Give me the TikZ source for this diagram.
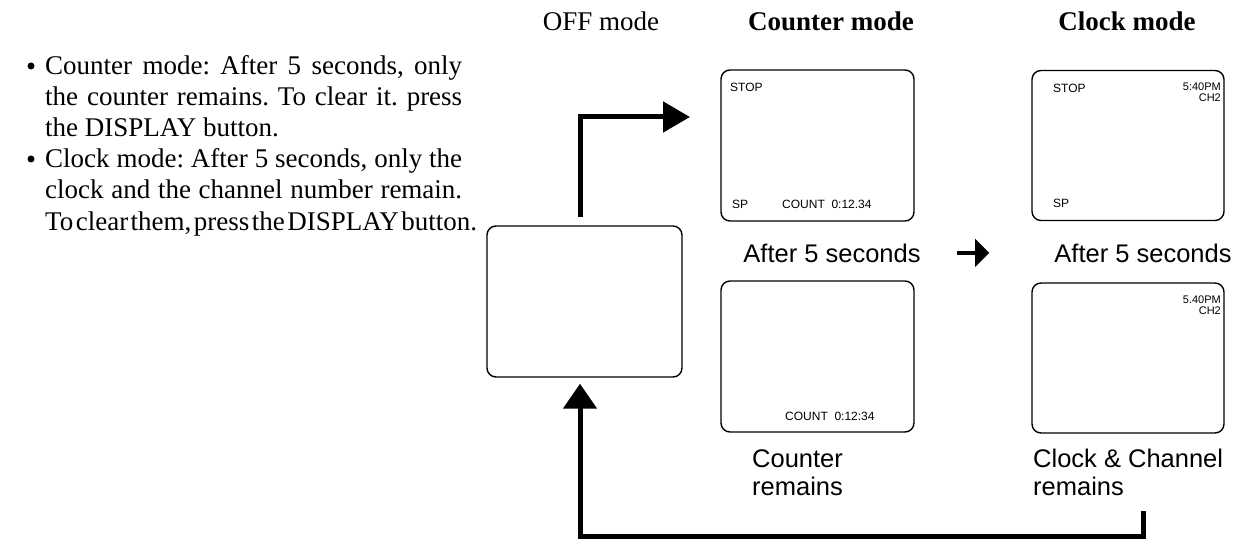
\documentclass[tikz,border=0pt]{standalone}
\usepackage{fontspec}
\setmainfont{Liberation Serif}
\newfontfamily\sansf{Liberation Sans}
\usetikzlibrary{arrows.meta}
\frenchspacing
\begin{document}
\begin{tikzpicture}[x=1pt,y=-1pt,
  screen/.style={draw=black, line width=1.4pt, rounded corners=9pt, minimum width=193pt, minimum height=151pt, inner sep=0pt},
  hdr/.style={anchor=base, inner sep=0pt, font=\fontsize{27}{32}\selectfont},
  body/.style={anchor=base west, inner sep=0pt, font=\fontsize{27}{31}\selectfont\frenchspacing},
  bul/.style={circle, fill=black, inner sep=0pt, minimum size=7pt},
  captxt/.style={anchor=base west, inner sep=0pt, font=\sansf\fontsize{25.5}{30}\selectfont},
  captxtc/.style={anchor=base, inner sep=0pt, font=\sansf\fontsize{25.5}{30}\selectfont},
  osd/.style={inner sep=0pt, font=\sansf\fontsize{12}{12}\selectfont},
  osdsmall/.style={inner sep=0pt, anchor=east, font=\sansf\fontsize{11}{11}\selectfont},
  bigarrow/.style={line width=5pt, -{Triangle[length=27pt,width=30pt]}},
  looparrow/.style={line width=5pt, -{Triangle[length=25pt,width=33pt]}},
  midarrow/.style={line width=4.5pt, -{Triangle[length=14pt,width=27pt]}}
]
\useasboundingbox (0,0) rectangle (1237,540);

% bullet text
\node[bul] (b1) at (31,66) {};
\node[body] (t1) at (45,75) {\makebox[417pt][s]{Counter mode: After 5 seconds, only}};
\node[body] (t2) at (45,106) {\makebox[417pt][s]{the counter remains. To clear it. press}};
\node[body] (t3) at (45,137) {the DISPLAY button.};
\node[bul] (b2) at (31,159) {};
\node[body] (t4) at (45,168) {\makebox[417pt][s]{Clock mode: After 5 seconds, only the}};
\node[body] (t5) at (45,199) {\makebox[417pt][s]{clock and the channel number remain.}};
\node[body] (t6) at (45,230) {\makebox[432pt][s]{\spaceskip=0.06em plus 1fil To clear them, press the DISPLAY button.}};

% headers
\node[hdr] (h1) at (601,31) {OFF mode};
\node[hdr] (h2) at (831,31) {\bfseries Counter mode};
\node[hdr] (h3) at (1127,31) {\bfseries Clock mode};

% screens
\node[screen, minimum width=195pt] (off) at (584.5,301.5) {};
\node[screen] (ctop) at (817.5,145.5) {};
\node[screen] (clow) at (817.5,356.5) {};
\node[screen, minimum width=192pt, minimum height=150pt] (ktop) at (1128,145.5) {};
\node[screen, minimum width=192pt, minimum height=150pt] (klow) at (1128,358) {};

% on-screen text
\node[osd, anchor=west] (s1) at (730,87) {STOP};
\node[osd, anchor=west] (s2) at (732,204) {SP};
\node[osd, anchor=west] (s3) at (782,204) {COUNT\ \ 0:12.34};
\node[osd, anchor=west] (s4) at (785,416) {COUNT\ \ 0:12:34};
\node[osd, anchor=west] (s5) at (1053,88) {STOP};
\node[osdsmall] (s6) at (1221,87) {5:40PM};
\node[osdsmall] (s7) at (1221,97.5) {CH2};
\node[osd, anchor=west] (s8) at (1053,203) {SP};
\node[osdsmall] (s9) at (1221,300) {5.40PM};
\node[osdsmall] (s10) at (1221,310.5) {CH2};

% captions
\node[captxtc] (as1) at (832,262) {After 5 seconds};
\node[captxtc] (as2) at (1143,262) {After 5 seconds};
\node[captxt] (c1) at (752,467) {Counter};
\node[captxt] (c2) at (752,495) {remains};
\node[captxt] (k1) at (1033,467) {Clock \& Channel};
\node[captxt] (k2) at (1033,495) {remains};

% arrows
\coordinate (a1end) at (690,117);
\draw[bigarrow] ([xshift=-4.5pt,yshift=8pt]off.north) |- (a1end);
\draw[midarrow] ([xshift=36pt]as1.east) -- ([xshift=-65pt]as2.west);
\coordinate (loopstart) at (1143,511);
\draw[looparrow] (loopstart) -- (loopstart |- 0,536) -| ([xshift=-4.5pt,yshift=-6pt]off.south);
\end{tikzpicture}
\end{document}
